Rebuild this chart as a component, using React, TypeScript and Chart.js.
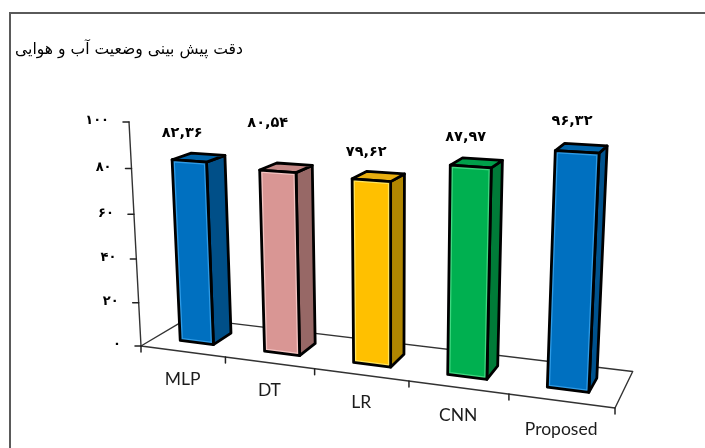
import React, { useEffect, useRef } from "react";
import { Chart, registerables } from "chart.js";

Chart.register(...registerables);

const chartTitle = "دقت پیش بینی وضعیت آب و هوایی";
const categories = ["MLP", "DT", "LR", "CNN", "Proposed"];
const accuracy = [82.36, 80.54, 79.62, 87.97, 96.32];
const valueTicks = ["۰", "۲۰", "۴۰", "۶۰", "۸۰", "۱۰۰"];

const frontColors = ["#0070C0", "#D99694", "#FFC000", "#00B050", "#0070C0"];
const edgeColors = ["#2E9BE6", "#F5C4C2", "#FFE45C", "#3FD880", "#2E9BE6"];
const sideColors = ["#004F88", "#976866", "#B08600", "#007B38", "#00528D"];
const topColors = ["#0063A8", "#C58886", "#E8AE10", "#00A04A", "#0063A8"];

// Hand-placed value captions, relative to the middle of each bar's top.
const captionShift = [
  [-7, -28],
  [-10, -48],
  [-5, -28],
  [-5, -29],
  [-5, -31],
];

const persianDigits = "۰۱۲۳۴۵۶۷۸۹";
const toPersian = (n: number) =>
  n.toFixed(2).replace(".", ",").replace(/\d/g, (d) => persianDigits[Number(d)]);

// Floor quad of the box and the vanishing point of its vertical edges.
const floorQuad = [
  [141, 346],
  [615, 408],
  [632.7, 371.5],
  [188, 318.15],
];
const vertical = [391, 5018];
const boxTop = 122;
const depthRange = [0.3, 0.7];

type P = [number, number];

function makeProjection() {
  const [[x0, y0], [x1, y1], [x2, y2], [x3, y3]] = floorQuad;
  const dx1 = x1 - x2;
  const dx2 = x3 - x2;
  const sx = x0 - x1 + x2 - x3;
  const dy1 = y1 - y2;
  const dy2 = y3 - y2;
  const sy = y0 - y1 + y2 - y3;
  const det = dx1 * dy2 - dx2 * dy1;
  const g = (sx * dy2 - dx2 * sy) / det;
  const h = (dx1 * sy - sx * dy1) / det;
  const a = x1 - x0 + g * x1;
  const b = x3 - x0 + h * x3;
  const d = y1 - y0 + g * y1;
  const e = y3 - y0 + h * y3;
  const k = (boxTop - y0) / (vertical[1] - boxTop);
  return (u: number, w: number, v: number): P => {
    const q = g * u + h * w + 1 + k * v;
    return [
      (a * u + b * w + x0 + k * vertical[0] * v) / q,
      (d * u + e * w + y0 + k * vertical[1] * v) / q,
    ];
  };
}

const project = makeProjection();

function poly(ctx: CanvasRenderingContext2D, pts: P[]) {
  ctx.beginPath();
  pts.forEach((p, i) => (i ? ctx.lineTo(p[0], p[1]) : ctx.moveTo(p[0], p[1])));
  ctx.closePath();
}

function segment(ctx: CanvasRenderingContext2D, a: P, b: P) {
  ctx.beginPath();
  ctx.moveTo(a[0], a[1]);
  ctx.lineTo(b[0], b[1]);
  ctx.stroke();
}

const perspectiveBars = {
  id: "perspectiveBars",
  beforeDraw(chart: Chart) {
    const { ctx, width, height } = chart;
    ctx.save();
    ctx.fillStyle = "#fff";
    ctx.fillRect(0, 0, width, height);
    ctx.strokeStyle = "#5a5a5a";
    ctx.lineWidth = 2;
    ctx.beginPath();
    ctx.moveTo(10, height);
    ctx.lineTo(10, 13);
    ctx.lineTo(width, 13);
    ctx.stroke();
    ctx.fillStyle = "#000";
    ctx.font = '15.6px "DejaVu Sans"';
    ctx.textAlign = "right";
    ctx.textBaseline = "middle";
    ctx.direction = "rtl";
    ctx.fillText(chartTitle, 243, 50);
    ctx.restore();
  },
  beforeDatasetsDraw(chart: Chart) {
    const { ctx, chartArea: area } = chart;
    const xScale = chart.scales.x;
    const yScale = chart.scales.y;
    const toU = (px: number) => (px - area.left) / area.width;
    const toV = (px: number) => (area.bottom - px) / area.height;
    ctx.save();
    ctx.lineCap = "round";
    ctx.lineJoin = "round";

    // Floor outline and value axis.
    ctx.strokeStyle = "#333";
    ctx.lineWidth = 1.4;
    poly(ctx, [project(0, 0, 0), project(1, 0, 0), project(1, 1, 0), project(0, 1, 0)]);
    ctx.stroke();
    segment(ctx, project(0, 0, 0), project(0, 0, 1));

    // Value ticks and labels.
    ctx.fillStyle = "#000";
    ctx.font = 'bold 13px "DejaVu Sans"';
    ctx.textAlign = "right";
    ctx.textBaseline = "middle";
    yScale.ticks.forEach((t, i) => {
      const p = project(0, 0, toV(yScale.getPixelForValue(t.value)));
      ctx.strokeStyle = "#222";
      ctx.lineWidth = 1.5;
      segment(ctx, [p[0] - 6, p[1]], p);
      ctx.fillText(valueTicks[i], p[0] - 20, p[1] - 1);
    });

    // Category ticks and labels.
    const n = categories.length;
    ctx.strokeStyle = "#222";
    for (let i = 0; i <= n; i++) {
      const p = project(i / n, 0, 0);
      segment(ctx, p, [p[0], p[1] + 6]);
    }
    ctx.font = "17.5px Lato";
    ctx.textAlign = "center";
    ctx.fillStyle = "#1c1c1c";
    categories.forEach((c, i) => {
      const p = project(toU(xScale.getPixelForValue(i)), 0, 0);
      ctx.fillText(c, p[0], p[1] + 28);
    });

    // Bars, each with its front, side and top faces.
    const [w0, w1] = depthRange;
    chart.getDatasetMeta(0).data.forEach((el, i) => {
      const bar = el as unknown as { x: number; y: number; base: number; width: number };
      const u0 = toU(bar.x - bar.width / 2);
      const u1 = toU(bar.x + bar.width / 2);
      const v = toV(bar.y);
      const front: P[] = [project(u0, w0, 0), project(u1, w0, 0), project(u1, w0, v), project(u0, w0, v)];
      const side: P[] = [project(u1, w0, 0), project(u1, w1, 0), project(u1, w1, v), project(u1, w0, v)];
      const top: P[] = [project(u0, w0, v), project(u1, w0, v), project(u1, w1, v), project(u0, w1, v)];

      ctx.lineWidth = 2.8;
      ctx.strokeStyle = "#000";
      poly(ctx, side);
      ctx.fillStyle = sideColors[i];
      ctx.fill();
      ctx.stroke();
      poly(ctx, top);
      ctx.fillStyle = topColors[i];
      ctx.fill();
      ctx.stroke();

      poly(ctx, front);
      ctx.fillStyle = frontColors[i];
      ctx.fill();
      ctx.save();
      ctx.clip();
      ctx.strokeStyle = edgeColors[i];
      ctx.lineWidth = 5.4;
      ctx.stroke();
      ctx.restore();
      poly(ctx, front);
      ctx.strokeStyle = "#000";
      ctx.lineWidth = 2.8;
      ctx.stroke();

      // Value caption.
      const c = project((u0 + u1) / 2, w0, v);
      ctx.fillStyle = "#000";
      ctx.font = 'bold 14.5px "DejaVu Sans"';
      ctx.textAlign = "center";
      ctx.textBaseline = "middle";
      ctx.direction = "ltr";
      ctx.fillText(toPersian(accuracy[i]), c[0] + captionShift[i][0], c[1] + captionShift[i][1]);
    });
    ctx.restore();
    return false;
  },
};

export default function App() {
  const ref = useRef<HTMLCanvasElement>(null);
  useEffect(() => {
    document.body.style.margin = "0";
    const chart = new Chart(ref.current!, {
      type: "bar",
      data: {
        labels: categories,
        datasets: [
          {
            data: accuracy,
            backgroundColor: frontColors,
            barPercentage: 0.4,
            categoryPercentage: 1,
          },
        ],
      },
      options: {
        animation: false,
        responsive: false,
        layout: { padding: 0 },
        plugins: { legend: { display: false }, tooltip: { enabled: false } },
        scales: {
          x: { display: false },
          y: { display: false, min: 0, max: 100, ticks: { stepSize: 20 } },
        },
      },
      plugins: [perspectiveBars],
    });
    return () => chart.destroy();
  }, []);
  return <canvas ref={ref} width={705} height={448} style={{ display: "block" }} />;
}
